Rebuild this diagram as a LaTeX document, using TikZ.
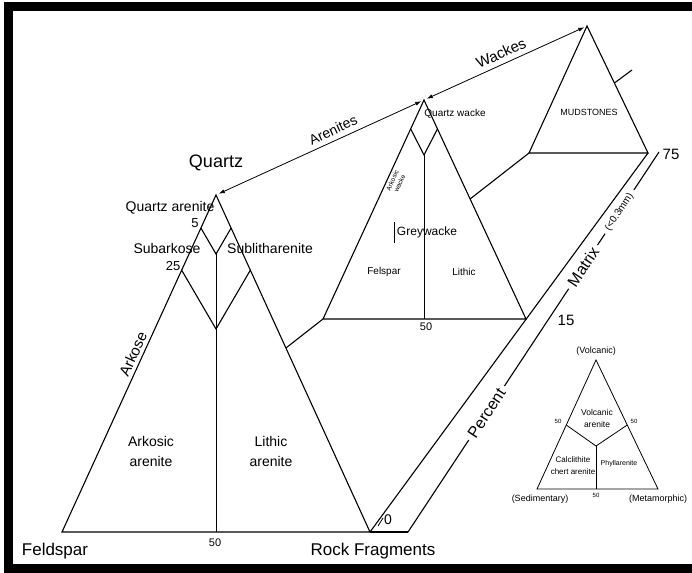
\documentclass[tikz,border=0pt]{standalone}
\usepackage{fontspec}
\setmainfont{Liberation Sans}
\usetikzlibrary{arrows.meta,calc}
\begin{document}
\begin{tikzpicture}[x=1pt,y=-1pt,
  edge/.style={line width=1.1pt,line join=miter},
  thin/.style={line width=0.8pt},
  lbl/.style={inner sep=0pt,align=center,font=\fontsize{#1}{#1}\selectfont},
  lbl/.default=14,
  two/.style 2 args={inner sep=0pt,align=center,font=\fontsize{#1}{#2}\selectfont},
  arr/.style={line width=0.8pt,{Latex[length=6pt,width=4pt]}-{Latex[length=6pt,width=4pt]},shorten <=3pt,shorten >=3pt}]
\useasboundingbox (0,0) rectangle (692,572);
\clip (0,0) rectangle (692,572);
% frame
\draw[line width=9pt] (8.5,6.5) rectangle (730,568);

% ---------- main triangle ----------
\coordinate (Q) at (216,195);
\coordinate (F) at (62,532);
\coordinate (RF) at (370,532);
\coordinate (q5l) at ($(Q)!0.098!(F)$);
\coordinate (q5r) at ($(Q)!0.098!(RF)$);
\coordinate (v1) at (216,254);
\coordinate (q25l) at ($(Q)!0.223!(F)$);
\coordinate (q25r) at ($(Q)!0.223!(RF)$);
\coordinate (v2) at (216,329);
\coordinate (b50) at (216,532);
\coordinate (rs) at ($(Q)!0.454!(RF)$);
\draw[edge] (F) -- (Q) -- (RF) -- cycle;
\draw[edge] (q5l) -- (v1) -- (q5r);
\draw[edge] (q25l) -- (v2) -- (q25r);
\draw[thin] (v1) -- (b50);

% ---------- greywacke triangle ----------
\coordinate (W) at (424,100);
\coordinate (WL) at (323,319);
\coordinate (WR) at (526,319);
\coordinate (w1l) at ($(W)!0.132!(WL)$);
\coordinate (w1r) at ($(W)!0.132!(WR)$);
\coordinate (wv) at (424,155);
\coordinate (wb) at (424,319);
\coordinate (wrs) at ($(W)!0.452!(WR)$);
\draw[edge] (WL) -- (W) -- (WR) -- cycle;
\draw[edge] (w1l) -- (wv) -- (w1r);
\draw[thin] (wv) -- (wb);
\draw[edge] (rs) -- (WL);

% ---------- mudstones triangle ----------
\coordinate (M) at (587,26);
\coordinate (ML) at (529,153);
\coordinate (MR) at (648,153);
\coordinate (mt) at ($(M)!0.449!(MR)$);
\coordinate (mte) at (632,70);
\draw[edge] (ML) -- (M) -- (MR) -- cycle;
\draw[edge] (wrs) -- (ML);
\draw[edge] (mt) -- (mte);

% ---------- percent band ----------
\coordinate (P0) at (408,532);
\coordinate (P1) at (659,152);
\draw[edge] (RF) -- (MR);
\draw[edge] (RF) -- (P0);
\draw[edge] (P0) -- ($(P0)!0.242!(P1)$);
\draw[edge] ($(P0)!0.384!(P1)$) -- ($(P0)!0.64!(P1)$);
\draw[edge] ($(P0)!0.755!(P1)$) -- ($(P0)!0.785!(P1)$);
\draw[edge] ($(P0)!0.9!(P1)$) -- (P1);
\coordinate (t0a) at (378,526);
\coordinate (t0b) at (383,518);
\draw[thin] (t0a) -- (t0b);

% ---------- arrows ----------
\draw[arr] (Q) -- (W);
\draw[arr] (W) -- (M);

% ---------- labels: main ----------
\node[lbl=18] (lq) at (216,163) {Quartz};
\node[lbl=14] (lqa) at (170,208) {Quartz arenite};
\node[lbl=13] (l5) at (195,223) {5};
\node[lbl=14] (lsa) at (167,248) {Subarkose};
\node[lbl=14] (lsl) at (270,248) {Sublitharenite};
\node[lbl=13] (l25) at (173,266) {25};
\node[lbl=15,rotate=65.4] (lark) at (133,354) {Arkose};
\node[two={14}{20}] (laa) at (151,451) {Arkosic\\arenite};
\node[two={14}{20}] (lla) at (271,451) {Lithic\\arenite};
\node[lbl=17] (lf) at (55,551) {Feldspar};
\node[lbl=11] (l50) at (215,543) {50};
\node[lbl=17] (lrf) at (373,551) {Rock Fragments};
\node[lbl=14] (l0) at (388,520) {0};

% ---------- labels: arrows ----------
\node[lbl=14,rotate=24.8] (lare) at (333,130) {Arenites};
\node[lbl=15,rotate=24.2] (lwac) at (501,53) {Wackes};

% ---------- labels: greywacke ----------
\node[lbl=10] (lqw) at (455,114) {Quartz wacke};
\node[two={6.5}{8},rotate=65.7] (law) at (396,182) {Arkosic\\wacke};
\node[lbl=12] (lgw) at (427,232) {Greywacke};
\draw[thin] (394,222) -- (394,243);
\node[lbl=10] (lfe) at (384,272) {Felspar};
\node[lbl=10] (lli) at (464,272) {Lithic};
\node[lbl=11] (l50w) at (426,327) {50};
\node[lbl=9] (lmud) at (589,112) {MUDSTONES};

% ---------- labels: band ----------
\node[lbl=16,rotate=56.6] (lper) at ($(P0)!0.313!(P1)$) {Percent};
\node[lbl=16,rotate=56.6] (lmat) at ($(P0)!0.698!(P1)$) {Matrix};
\node[lbl=10,rotate=56.6] (lmm) at ($(P0)!0.842!(P1)$) {(<0.3mm)};
\node[lbl=15] (l15) at (566,320) {15};
\node[lbl=15] (l75) at (671,154) {75};

% ---------- inset triangle ----------
\coordinate (V) at (596,360);
\coordinate (SL) at (537,489);
\coordinate (SR) at (658,489);
\coordinate (il) at ($(V)!0.504!(SL)$);
\coordinate (ir) at ($(V)!0.504!(SR)$);
\coordinate (ic) at (596,446);
\coordinate (ib) at (596,489);
\draw[thin] (SL) -- (V) -- (SR) -- cycle;
\draw[thin] (il) -- (ic) -- (ir);
\draw[thin] (ic) -- (ib);
\node[lbl=9] (lvo) at (596,351) {(Volcanic)};
\node[lbl=9] (lse) at (540,499) {(Sedimentary)};
\node[lbl=9] (lme) at (658,499) {(Metamorphic)};
\node[lbl=6] (li50b) at (596,495) {50};
\node[lbl=6] (li50l) at (558,421) {50};
\node[lbl=6] (li50r) at (634,421) {50};
\node[two={8.5}{12}] (lva) at (597,418) {Volcanic\\arenite};
\node[two={8}{12}] (lcc) at (573,466) {Calclithite\\chert arenite};
\node[lbl=7] (lph) at (619,464) {Phyllarenite};
\end{tikzpicture}
\end{document}
